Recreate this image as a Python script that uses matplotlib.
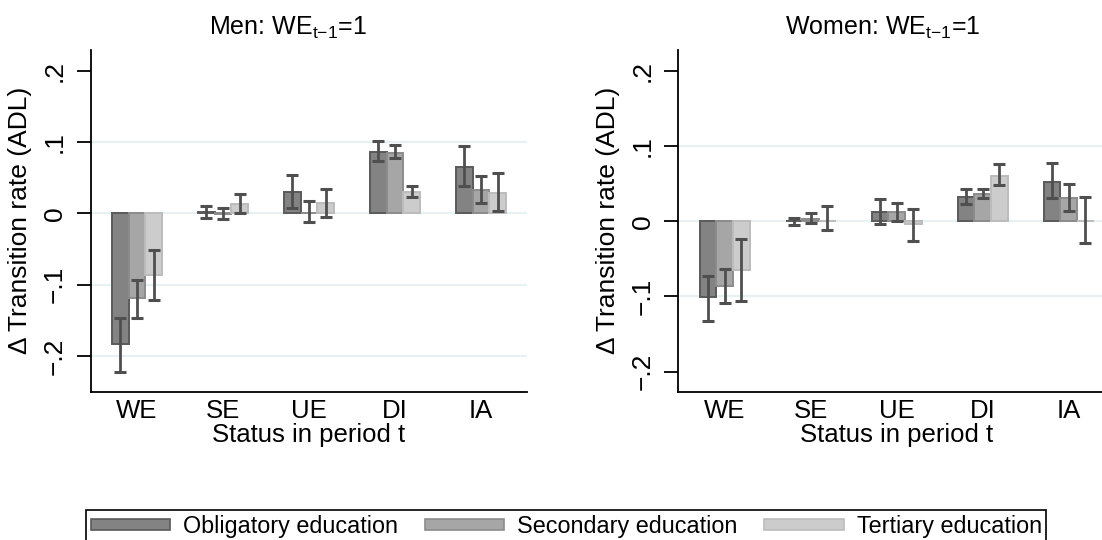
import matplotlib
matplotlib.use('Agg')
import matplotlib.pyplot as plt
from matplotlib.patches import Patch
import numpy as np

plt.rcParams['font.family'] = ['Liberation Sans', 'DejaVu Sans']
plt.rcParams['mathtext.fontset'] = 'custom'
plt.rcParams['mathtext.rm'] = 'Liberation Sans'

statuses = ['WE', 'SE', 'UE', 'DI', 'IA']
education = ['Obligatory education', 'Secondary education', 'Tertiary education']

# Men: point estimates and 95% CI bounds, one list per education group
men_obl = [-0.183, 0.002, 0.030, 0.086, 0.065]
men_sec = [-0.119, -0.001, 0.001, 0.085, 0.033]
men_ter = [-0.087, 0.013, 0.014, 0.030, 0.029]
men_obl_lo = [-0.222, -0.006, 0.008, 0.073, 0.039]
men_obl_hi = [-0.147, 0.010, 0.054, 0.102, 0.094]
men_sec_lo = [-0.146, -0.008, -0.012, 0.077, 0.014]
men_sec_hi = [-0.094, 0.007, 0.017, 0.096, 0.053]
men_ter_lo = [-0.122, 0.001, -0.005, 0.023, 0.004]
men_ter_hi = [-0.051, 0.027, 0.034, 0.038, 0.057]

# Women
women_obl = [-0.101, 0.001, 0.012, 0.032, 0.053]
women_sec = [-0.086, 0.003, 0.012, 0.036, 0.031]
women_ter = [-0.065, 0.001, -0.003, 0.061, 0.001]
women_obl_lo = [-0.132, -0.005, -0.004, 0.023, 0.031]
women_obl_hi = [-0.073, 0.004, 0.030, 0.043, 0.078]
women_sec_lo = [-0.109, -0.002, 0.000, 0.031, 0.014]
women_sec_hi = [-0.063, 0.011, 0.025, 0.043, 0.050]
women_ter_lo = [-0.106, -0.012, -0.026, 0.048, -0.029]
women_ter_hi = [-0.023, 0.020, 0.017, 0.076, 0.033]

ytick_vals = [-0.2, -0.1, 0, 0.1, 0.2]
ytick_labels = ['\u2212.2', '\u2212.1', '0', '.1', '.2']

fills = ['#838383', '#a6a6a6', '#cccccc']
edges = ['#5a5a5a', '#8c8c8c', '#bcbcbc']
ci_color = '#4f4f4f'
grid_color = '#e8f0f1'
bar_w = 0.194


def draw_panel(ax, est, lo, hi, ylim, grid_vals):
    x = np.arange(len(statuses))
    for g in grid_vals:
        ax.axhline(g, color=grid_color, lw=1.6, zorder=0)
    for k in range(3):
        pos = x + (k - 1) * bar_w
        e = np.array(est[k])
        l = np.array(lo[k])
        h = np.array(hi[k])
        ax.bar(pos, e, width=bar_w, color=fills[k], edgecolor=edges[k],
               linewidth=1.4, zorder=2)
        ax.errorbar(pos, (l + h) / 2, yerr=(h - l) / 2, fmt='none',
                    ecolor=ci_color, elinewidth=2.0, capsize=4.5,
                    capthick=2.2, zorder=3)
    ax.set_xlim(-0.538, 4.538)
    ax.set_ylim(*ylim)
    ax.set_xticks(x)
    ax.set_xticklabels(statuses)
    ax.set_yticks(ytick_vals)
    ax.set_yticklabels(ytick_labels, rotation=90, va='center')
    ax.tick_params(axis='x', length=0, pad=5, labelsize=18.5)
    ax.tick_params(axis='y', length=10, width=1.3, pad=7, labelsize=19)
    for s in ['top', 'right']:
        ax.spines[s].set_visible(False)
    for s in ['left', 'bottom']:
        ax.spines[s].set_linewidth(1.3)
    ax.set_xlabel('Status in period t', fontsize=18.5, labelpad=0)
    ax.set_ylabel('\u0394 Transition rate (ADL)', fontsize=19, labelpad=8)


fig = plt.figure(figsize=(11.02, 5.4), dpi=100)
ax_men = fig.add_axes([0.0823, 0.2746, 0.3962, 0.6328])
ax_women = fig.add_axes([0.6155, 0.2746, 0.3962, 0.6328])

draw_panel(ax_men, [men_obl, men_sec, men_ter],
           [men_obl_lo, men_sec_lo, men_ter_lo],
           [men_obl_hi, men_sec_hi, men_ter_hi],
           (-0.250, 0.229), [-0.2, -0.1, 0, 0.1])
draw_panel(ax_women, [women_obl, women_sec, women_ter],
           [women_obl_lo, women_sec_lo, women_ter_lo],
           [women_obl_hi, women_sec_hi, women_ter_hi],
           (-0.2267, 0.228), [-0.1, 0, 0.1])

fig.text(287.5 / 1102, 1 - 35 / 540, r'Men: WE$_{\mathregular{t{-}1}}$=1',
         ha='center', va='baseline', fontsize=18)
fig.text(882.5 / 1102, 1 - 35 / 540, r'Women: WE$_{\mathregular{t{-}1}}$=1',
         ha='center', va='baseline', fontsize=18)

handles = [Patch(facecolor=fills[k], edgecolor=edges[k], linewidth=1.2)
           for k in range(3)]
leg = fig.legend(handles, education, ncol=3, loc='upper left',
                 bbox_to_anchor=(86.4 / 1102, 1 - 510 / 540),
                 fontsize=16.8, frameon=True, fancybox=False, framealpha=1,
                 edgecolor='black', borderpad=0.2, borderaxespad=0,
                 handlelength=3.4, handleheight=0.32, handletextpad=0.55,
                 columnspacing=1.15)
leg.get_frame().set_linewidth(1.2)

fig.savefig('out.png', dpi=100)
